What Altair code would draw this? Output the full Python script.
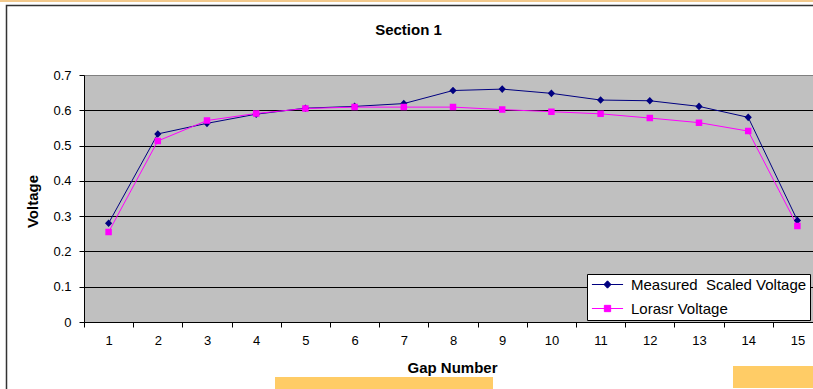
import altair as alt
import pandas as pd

# ---- data ----
gaps = list(range(1, 16))
measured = [0.280, 0.533, 0.563, 0.589, 0.606, 0.611, 0.619, 0.656, 0.660,
            0.648, 0.629, 0.627, 0.611, 0.580, 0.288]
lorasr = [0.255, 0.513, 0.571, 0.591, 0.605, 0.609, 0.609, 0.609, 0.602,
          0.596, 0.590, 0.578, 0.565, 0.541, 0.272]
series_names = ["Measured\u00a0 Scaled Voltage", "Lorasr Voltage"]
series_colors = ["#000080", "#FF00FF"]
# marker shapes: unit marker plus a long stroke-only tail that only shows in the legend
series_shapes = ["M-4.45,0L4.45,0M0,-1.05L1,0L0,1.05L-1,0Z",
                 "M-4.45,0L4.45,0M-0.9,-0.9L0.9,-0.9L0.9,0.9L-0.9,0.9Z"]
y_ticks = [0, 0.1, 0.2, 0.3, 0.4, 0.5, 0.6, 0.7]

rows = []
for name, vals in zip(series_names, [measured, lorasr]):
    for g, v in zip(gaps, vals):
        rows.append({"gap": g, "series": name, "value": v})
df = pd.DataFrame(rows)

FONT = "Liberation Sans"
PLOT_W, PLOT_H = 729, 247
BAND = 49.2

x_enc = alt.X(
    "gap:Q",
    scale=alt.Scale(domain=[0.5, 0.5 + PLOT_W / BAND], nice=False, zero=False),
    axis=alt.Axis(values=gaps, tickOffset=-BAND / 2, labelOffset=BAND / 2,
                  grid=False, title="Gap Number", labelFlush=False,
                  labelOverlap=False, tickSize=5, labelPadding=7,
                  titleX=368, titleY=45, titleBaseline="middle",
                  titleAlign="center"),
)
y_enc = alt.Y(
    "value:Q",
    scale=alt.Scale(domain=[0, 0.7], nice=False),
    axis=alt.Axis(values=y_ticks, format="~g", grid=True, tickSize=5,
                  labelPadding=8, title="Voltage", titleAngle=270,
                  titleX=-52, titleY=126, titleBaseline="middle",
                  titleAlign="center",
                  gridColor=alt.condition("datum.value >= 0.69",
                                          alt.value("#808080"),
                                          alt.value("#000000"))),
)

legend = alt.Legend(
    orient="none", legendX=503, legendY=199, fillColor="white",
    strokeColor="black", padding=3, labelFont=FONT, labelFontSize=15,
    labelColor="black", symbolSize=49, symbolOffset=10, labelOffset=16,
    rowPadding=8, symbolStrokeWidth=1, labelLimit=400, symbolOpacity=1,
)

color_enc = alt.Color("series:N",
                      scale=alt.Scale(domain=series_names, range=series_colors),
                      title=None, legend=legend)
shape_enc = alt.Shape("series:N",
                      scale=alt.Scale(domain=series_names, range=series_shapes),
                      title=None, legend=legend)

lines = alt.Chart(df).mark_line(strokeWidth=1).encode(
    x=x_enc, y=y_enc, color=color_enc
)
points = alt.Chart(df).mark_point(filled=True, size=52, opacity=1, strokeWidth=0).encode(
    x=x_enc, y=y_enc, color=color_enc, shape=shape_enc,
)

one = pd.DataFrame({"k": [0]})
border = alt.Chart(one).mark_rect(fill="transparent", stroke="#333333", strokeWidth=1.5).encode(
    x=alt.value(-77.5), y=alt.value(-69.5), x2=alt.value(800), y2=alt.value(400)
)
top_strip = alt.Chart(one).mark_rect(color="#F2C98C").encode(
    x=alt.value(-84), x2=alt.value(729), y=alt.value(-75), y2=alt.value(-73)
)
orange1 = alt.Chart(one).mark_rect(color="#FFCC66").encode(
    x=alt.value(191), x2=alt.value(409), y=alt.value(302), y2=alt.value(314)
)
orange2 = alt.Chart(one).mark_rect(color="#FFCC66").encode(
    x=alt.value(649), x2=alt.value(729), y=alt.value(291), y2=alt.value(313)
)

chart = alt.layer(border, top_strip, orange1, orange2, lines, points).properties(
    width=PLOT_W, height=PLOT_H,
    title=alt.TitleParams("Section 1", font=FONT, fontSize=15, fontWeight="bold",
                          color="black", anchor="middle", dx=-40, offset=-38),
    autosize=alt.AutoSizeParams(type="none"),
    padding={"left": 84, "top": 75, "right": 0, "bottom": 67},
    background="white",
).configure_view(
    fill="#C0C0C0", strokeWidth=0
).configure_axis(
    labelFont=FONT, labelFontSize=13, labelColor="black",
    titleFont=FONT, titleFontSize=15, titleFontWeight="bold", titleColor="black",
    domainColor="black", tickColor="black", gridWidth=1, gridOpacity=1,
)

chart.save("out.html", embed_options={"renderer": "svg", "actions": False})
